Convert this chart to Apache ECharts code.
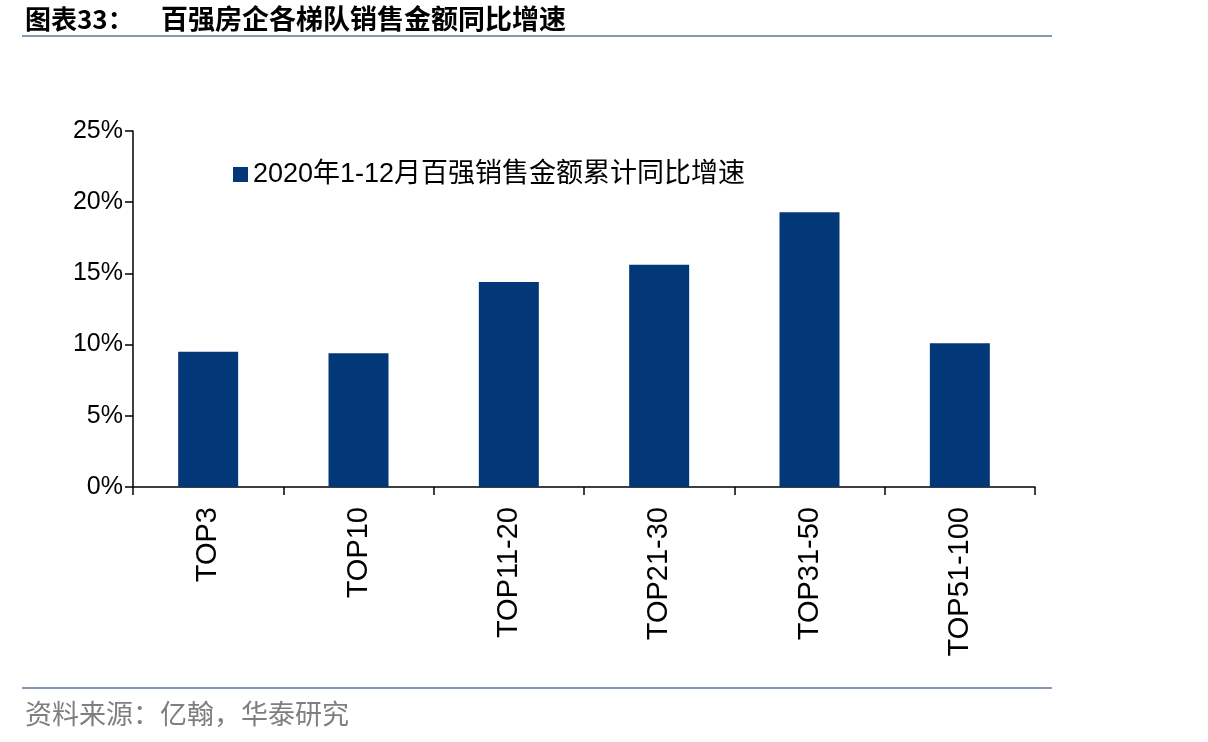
<!DOCTYPE html>
<html>
<head>
<meta charset="utf-8">
<script src="https://cdn.jsdelivr.net/npm/echarts@6/dist/echarts.min.js"></script>
<style>
  html, body { margin: 0; padding: 0; background: #fff; }
  #main { width: 1208px; height: 742px; }
</style>
</head>
<body>
<div id="main"></div>
<script>
  // 百强房企各梯队销售金额同比增速 (%)
  let categories = ['TOP3', 'TOP10', 'TOP11-20', 'TOP21-30', 'TOP31-50', 'TOP51-100'];
  let growth = [9.5, 9.4, 14.4, 15.6, 19.3, 10.1];
  let seriesName = '2020年1-12月百强销售金额累计同比增速';
  let yTicks = { min: 0, max: 25, interval: 5 };

  let chart = echarts.init(document.getElementById('main'));
  let cjk = '"Noto Sans CJK SC", "Noto Sans", sans-serif';
  let latin = 'Arial, "Liberation Sans", "Noto Sans CJK SC", sans-serif';

  let option = {
    animation: false,
    title: [
      {
        text: '图表33：',
        left: 20,
        top: 1,
        textStyle: { fontFamily: cjk, fontSize: 26, fontWeight: 'bold', color: '#000' }
      },
      {
        text: '百强房企各梯队销售金额同比增速',
        left: 156,
        top: 0,
        textStyle: { fontFamily: cjk, fontSize: 27, fontWeight: 'bold', color: '#000' }
      },
      {
        text: '资料来源：亿翰，华泰研究',
        left: 20,
        top: 695,
        textStyle: { fontFamily: cjk, fontSize: 27, fontWeight: 'normal', color: '#7f7f7f' }
      }
    ],
    graphic: [
      { type: 'rect', shape: { x: 22, y: 35, width: 1030, height: 2 }, style: { fill: '#8497b0' } },
      { type: 'rect', shape: { x: 22, y: 687, width: 1030, height: 2 }, style: { fill: '#8497b0' } }
    ],
    legend: {
      data: [seriesName],
      left: 228,
      top: 156,
      icon: 'rect',
      itemWidth: 15,
      itemHeight: 15,
      itemGap: 6,
      textStyle: { fontFamily: latin, fontSize: 27, color: '#000' }
    },
    grid: { left: 133, right: 173, top: 131, bottom: 255, containLabel: false },
    xAxis: {
      type: 'category',
      data: categories,
      axisLine: { lineStyle: { color: '#000', width: 1.5 } },
      axisTick: { show: true, length: 8, lineStyle: { color: '#000', width: 1.5 } },
      axisLabel: {
        rotate: 90,
        margin: 20,
        interval: 0,
        fontFamily: latin,
        fontSize: 29,
        color: '#000'
      }
    },
    yAxis: {
      type: 'value',
      min: yTicks.min,
      max: yTicks.max,
      interval: yTicks.interval,
      splitLine: { show: false },
      axisLine: { show: true, lineStyle: { color: '#000', width: 1.5 } },
      axisTick: { show: true, length: 8, lineStyle: { color: '#000', width: 1.5 } },
      axisLabel: {
        formatter: '{value}%',
        margin: 10,
        fontFamily: latin,
        fontSize: 25,
        color: '#000'
      }
    },
    series: [
      {
        name: seriesName,
        type: 'bar',
        data: growth,
        barWidth: 60,
        itemStyle: { color: '#023877' }
      }
    ]
  };

  chart.setOption(option);
</script>
</body>
</html>
